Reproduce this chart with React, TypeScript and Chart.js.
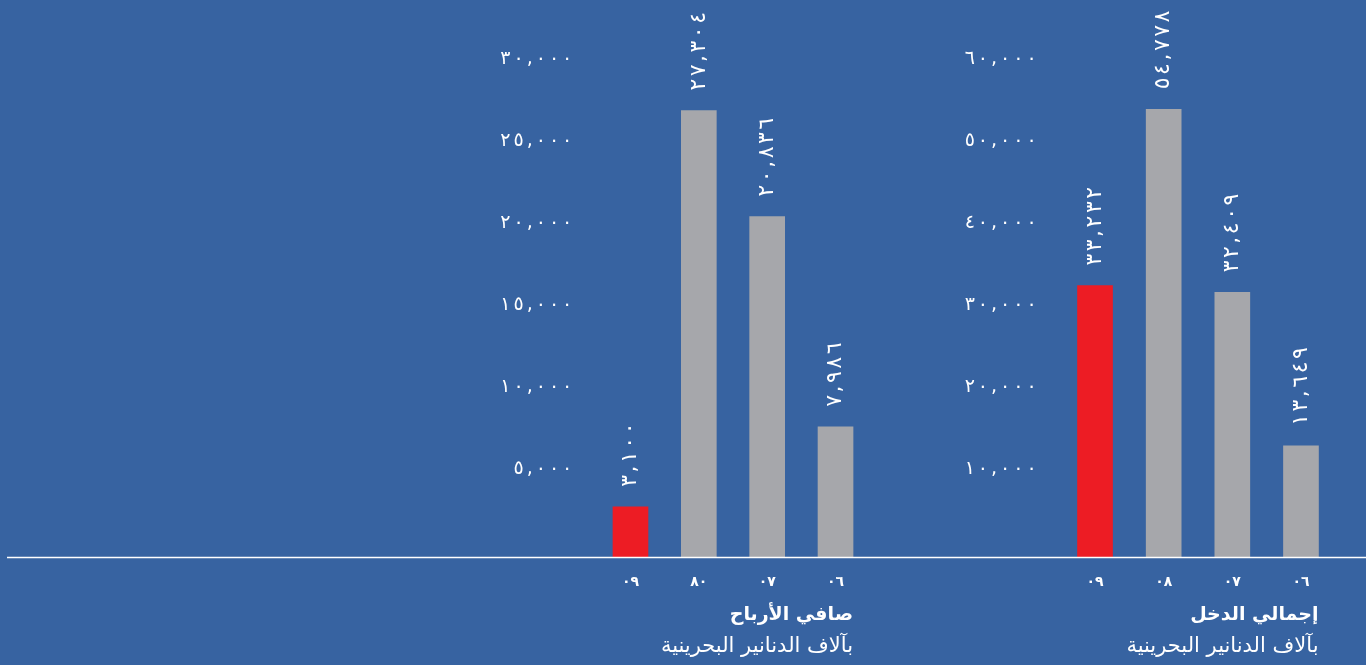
import React, { useEffect, useRef } from 'react';
import { Chart, registerables } from 'chart.js';

Chart.register(...registerables);

const BG = '#3763a1';
const GRAY = '#a6a7ab';
const RED = '#ed1c24';
const WHITE = '#ffffff';
const FONT = '"DejaVu Sans", sans-serif';

const profitCategories = ['٠٩', '٨٠', '٠٧', '٠٦'];
const profitValues = [3100, 27304, 20836, 7986];
const profitTicks = [0, 5000, 10000, 15000, 20000, 25000, 30000];

const incomeCategories = ['٠٩', '٠٨', '٠٧', '٠٦'];
const incomeValues = [33232, 54778, 32409, 13649];
const incomeTicks = [0, 10000, 20000, 30000, 40000, 50000, 60000];

const barColors = [RED, GRAY, GRAY, GRAY];

const profitTitle = 'صافي الأرباح';
const incomeTitle = 'إجمالي الدخل';
const unitSubtitle = 'بآلاف الدنانير البحرينية';

const AR_DIGITS = '٠١٢٣٤٥٦٧٨٩';
function toArabicDigits(n: number): string {
  return n.toLocaleString('en-US').replace(/[0-9]/g, (d) => AR_DIGITS[+d]);
}

// draws digits left-to-right with extra spacing between characters
function drawSpaced(
  ctx: CanvasRenderingContext2D,
  text: string,
  x: number,
  y: number,
  spacing: number,
  align: 'left' | 'right'
) {
  const chars = Array.from(text);
  const widths = chars.map((c) => ctx.measureText(c).width);
  const total = widths.reduce((a, b) => a + b, 0) + spacing * (chars.length - 1);
  let cx = align === 'left' ? x : x - total;
  ctx.save();
  ctx.textAlign = 'left';
  chars.forEach((c, i) => {
    ctx.fillText(c, cx, y);
    cx += widths[i] + spacing;
  });
  ctx.restore();
}

function makeDecor(lineStart: number, title: string, subtitle: string) {
  return {
    id: 'decor',
    afterDatasetsDraw(chart: any) {
      const ctx = chart.ctx as CanvasRenderingContext2D;
      const yScale = chart.scales.y;
      const y0 = yScale.getPixelForValue(0);
      ctx.save();
      ctx.strokeStyle = WHITE;
      ctx.lineWidth = 1.5;
      ctx.beginPath();
      ctx.moveTo(lineStart, y0);
      ctx.lineTo(chart.width, y0);
      ctx.stroke();

      ctx.fillStyle = WHITE;
      ctx.textBaseline = 'middle';

      // y tick labels
      ctx.font = `19px ${FONT}`;
      yScale.ticks.forEach((t: any) => {
        if (t.value === 0) return;
        const py = yScale.getPixelForValue(t.value) - 7;
        drawSpaced(ctx, toArabicDigits(t.value), chart.chartArea.left - 24, py, 3, 'right');
      });

      // value labels
      const meta = chart.getDatasetMeta(0);
      const data = chart.data.datasets[0].data as number[];
      ctx.font = `22px ${FONT}`;
      meta.data.forEach((bar: any, i: number) => {
        ctx.save();
        ctx.translate(bar.x, bar.y - 20);
        ctx.rotate(-Math.PI / 2);
        drawSpaced(ctx, toArabicDigits(data[i]), 0, 0, 2.5, 'left');
        ctx.restore();
      });

      const last: any = meta.data[meta.data.length - 1];
      const right = last.x + last.width / 2;
      ctx.textAlign = 'right';
      ctx.font = `bold 19px ${FONT}`;
      ctx.fillText(title, right, 615);
      ctx.font = `21px ${FONT}`;
      ctx.fillText(subtitle, right, 647);
      ctx.restore();
    },
  };
}

function buildConfig(
  categories: string[],
  values: number[],
  ticks: number[],
  padLeft: number,
  padRight: number,
  lineStart: number,
  title: string
): any {
  const max = ticks[ticks.length - 1];
  return {
    type: 'bar',
    data: {
      labels: categories,
      datasets: [
        {
          data: values,
          backgroundColor: barColors,
          borderWidth: 0,
          barThickness: 35,
        },
      ],
    },
    options: {
      responsive: false,
      animation: false,
      layout: { padding: { left: padLeft, right: padRight, top: 66.5, bottom: 0 } },
      plugins: { legend: { display: false }, tooltip: { enabled: false }, title: { display: false } },
      scales: {
        x: {
          grid: { display: false, drawTicks: false },
          border: { display: false },
          ticks: {
            color: WHITE,
            font: { family: FONT, size: 14, weight: 'bold' },
            padding: 16,
            maxRotation: 0,
          },
          afterFit: (s: any) => {
            s.height = 107.5;
          },
        },
        y: {
          min: 0,
          max,
          grid: { display: false, drawTicks: false },
          border: { display: false },
          afterBuildTicks: (s: any) => {
            s.ticks = ticks.map((v) => ({ value: v }));
          },
          afterFit: (s: any) => {
            s.width = 100;
          },
          ticks: { display: false },
        },
      },
    },
    plugins: [makeDecor(lineStart, title, unitSubtitle)],
  };
}

export default function App() {
  const leftRef = useRef<HTMLCanvasElement>(null);
  const rightRef = useRef<HTMLCanvasElement>(null);

  useEffect(() => {
    const c1 = new Chart(
      leftRef.current as HTMLCanvasElement,
      buildConfig(profitCategories, profitValues, profitTicks, 496.3, 50.3, 7, profitTitle)
    );
    const c2 = new Chart(
      rightRef.current as HTMLCanvasElement,
      buildConfig(incomeCategories, incomeValues, incomeTicks, 40.7, 30.7, 0, incomeTitle)
    );
    return () => {
      c1.destroy();
      c2.destroy();
    };
  }, []);

  return (
    <div
      style={{
        position: 'fixed',
        left: 0,
        top: 0,
        width: 1366,
        height: 665,
        background: BG,
        overflow: 'hidden',
      }}
    >
      <canvas
        ref={leftRef}
        width={920}
        height={665}
        style={{ position: 'absolute', left: 0, top: 0, display: 'block' }}
      />
      <canvas
        ref={rightRef}
        width={446}
        height={665}
        style={{ position: 'absolute', left: 920, top: 0, display: 'block' }}
      />
    </div>
  );
}
